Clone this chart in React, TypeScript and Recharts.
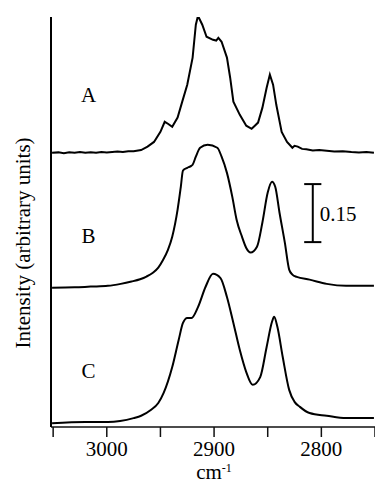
import React from 'react';
import { LineChart, Line, XAxis, YAxis, ReferenceLine, ReferenceDot } from 'recharts';

// Wavenumber grid (cm-1) and intensity (arbitrary units, above each trace's own baseline)
const aWavenumber = [
  3051, 3045, 3040, 3035, 3030, 3025, 3020, 3015,
  3010, 3005, 3000, 2995, 2990, 2985, 2980, 2975,
  2968, 2962, 2956, 2950, 2946, 2943, 2939, 2934,
  2930, 2925, 2920, 2917, 2915, 2911, 2907, 2901,
  2898, 2896, 2893, 2888, 2885, 2882, 2876, 2870,
  2865, 2862, 2859, 2855, 2851, 2848, 2845, 2842,
  2837, 2832, 2827, 2825, 2822, 2818, 2814, 2808,
  2802, 2795, 2788, 2780, 2772, 2765, 2758, 2751,
];
const aIntensity = [
  0, 0.001, -0.001, 0.001, 0, 0.002, 0, 0.001,
  0, 0.002, 0.001, 0.002, 0.003, 0.002, 0.004, 0.004,
  0.007, 0.016, 0.028, 0.054, 0.08, 0.075, 0.067, 0.091,
  0.129, 0.176, 0.246, 0.331, 0.354, 0.331, 0.3, 0.292,
  0.29, 0.297, 0.287, 0.246, 0.194, 0.132, 0.098, 0.07,
  0.062, 0.07, 0.078, 0.116, 0.168, 0.202, 0.176, 0.124,
  0.054, 0.028, 0.013, 0.018, 0.016, 0.01, 0.009, 0.006,
  0.007, 0.005, 0.003, 0.004, 0.002, 0.001, 0.002, 0,
];

const bWavenumber = [
  3051, 3030, 3015, 2999, 2987, 2977, 2969, 2963, 2957, 2952, 2948, 2943,
  2939, 2934, 2931, 2929, 2925, 2922, 2920, 2917, 2913, 2906, 2897,
  2893, 2888, 2883, 2879, 2874, 2870, 2866, 2860, 2855, 2850, 2846,
  2843, 2839, 2834, 2830, 2827, 2823, 2811, 2795, 2777, 2751,
];
const bIntensity = [
  0, 0.001, 0.003, 0.005, 0.01, 0.016, 0.022, 0.029, 0.039, 0.052, 0.07, 0.098,
  0.132, 0.202, 0.261, 0.303, 0.31, 0.314, 0.318, 0.339, 0.362, 0.37, 0.362,
  0.339, 0.297, 0.235, 0.176, 0.132, 0.103, 0.091, 0.106, 0.168, 0.246, 0.274,
  0.261, 0.194, 0.116, 0.047, 0.034, 0.028, 0.021, 0.01, 0.005, 0.005,
];

const cWavenumber = [
  3051, 3020, 2999, 2975, 2968, 2959, 2952, 2947, 2939, 2933, 2929, 2925,
  2921, 2915, 2908, 2901, 2894, 2888, 2882, 2876, 2870, 2864, 2857, 2851,
  2846, 2844, 2841, 2836, 2830, 2825, 2820, 2811, 2795, 2777, 2751,
];
const cIntensity = [
  -0.003, 0, 0, 0.01, 0.016, 0.031, 0.049, 0.075, 0.142, 0.212, 0.256, 0.269,
  0.269, 0.297, 0.349, 0.383, 0.372, 0.323, 0.256, 0.186, 0.129, 0.096, 0.116, 0.194,
  0.259, 0.272, 0.246, 0.168, 0.083, 0.052, 0.039, 0.023, 0.016, 0.01, 0.01,
];

// Vertical stacking offsets of the three traces
const traceNames = ['A', 'B', 'C'];
const traceOffsets = [0.709, 0.36, 0.013];
// Where each trace letter sits (wavenumber, intensity)
const letterWavenumber = 3017;
const letterLevels = [0.859, 0.494, 0.145];

// Axis
const xTicks = [3050, 3000, 2950, 2900, 2850, 2800, 2750];
const xDomain = [2750, 3052];
const yDomain = [0, 1.06];

// Scale bar
const scaleBarValue = 0.15;
const scaleBarBase = 0.478;
const scaleBarWavenumber = 2808;
const scaleBarCapHalf = 8;

const buildTrace = (wn: number[], val: number[], offset: number) =>
  wn.map((w, i) => ({ wn: w, y: val[i] + offset }));

const traces = [
  buildTrace(aWavenumber, aIntensity, traceOffsets[0]),
  buildTrace(bWavenumber, bIntensity, traceOffsets[1]),
  buildTrace(cWavenumber, cIntensity, traceOffsets[2]),
];

const FONT = "'Liberation Serif', 'Times New Roman', serif";

const renderTick = (props: any) => {
  const { x, y, payload } = props;
  if (payload.value % 100 !== 0) return <g />;
  return (
    <text x={x} y={y} dy={14} textAnchor="middle" fontSize={21} fill="#000" fontFamily={FONT}>
      {payload.value}
    </text>
  );
};

const XTitle = () => (
  <text x={214} y={479} textAnchor="middle" fontSize={21} fill="#000" fontFamily={FONT}>
    cm
    <tspan fontSize={12} dy={-7}>-1</tspan>
  </text>
);

const YTitle = () => (
  <text
    transform="translate(30,243) rotate(-90)"
    textAnchor="middle"
    fontSize={21}
    fill="#000"
    fontFamily={FONT}
  >
    Intensity (arbitrary units)
  </text>
);

export default function App() {
  return (
    <div style={{ position: 'absolute', left: 0, top: 0, background: '#fff', fontFamily: FONT }}>
      <LineChart width={375} height={485} margin={{ top: 17, right: 0, bottom: 0, left: 0 }}>
        <XAxis
          dataKey="wn"
          type="number"
          domain={xDomain}
          reversed
          allowDataOverflow
          ticks={xTicks}
          interval={0}
          height={58}
          tickSize={10}
          tickMargin={5}
          axisLine={{ stroke: '#111', strokeWidth: 1.5 }}
          tickLine={{ stroke: '#111', strokeWidth: 1.5 }}
          tick={renderTick}
          label={<XTitle />}
        />
        <YAxis
          type="number"
          dataKey="y"
          domain={yDomain}
          allowDataOverflow
          width={51}
          tick={false}
          tickLine={false}
          axisLine={{ stroke: '#000', strokeWidth: 2 }}
          label={<YTitle />}
        />
        {traces.map((data, i) => (
          <Line
            key={traceNames[i]}
            data={data}
            dataKey="y"
            type={i === 0 ? 'linear' : 'monotone'}
            stroke="#000"
            strokeWidth={2}
            dot={false}
            activeDot={false}
            isAnimationActive={false}
          />
        ))}
        {traceNames.map((name, i) => (
          <ReferenceDot
            key={`lbl-${name}`}
            x={letterWavenumber}
            y={letterLevels[i]}
            r={0}
            fill="none"
            stroke="none"
            label={{ value: name, position: 'center', fontSize: 21, fill: '#000', fontFamily: FONT }}
          />
        ))}
        <ReferenceLine
          segment={[
            { x: scaleBarWavenumber, y: scaleBarBase },
            { x: scaleBarWavenumber, y: scaleBarBase + scaleBarValue },
          ]}
          stroke="#000"
          strokeWidth={2}
          label={{ value: String(scaleBarValue), position: 'right', offset: 7, fontSize: 21, fill: '#000', fontFamily: FONT }}
        />
        <ReferenceLine
          segment={[
            { x: scaleBarWavenumber + scaleBarCapHalf, y: scaleBarBase },
            { x: scaleBarWavenumber - scaleBarCapHalf, y: scaleBarBase },
          ]}
          stroke="#000"
          strokeWidth={2}
        />
        <ReferenceLine
          segment={[
            { x: scaleBarWavenumber + scaleBarCapHalf, y: scaleBarBase + scaleBarValue },
            { x: scaleBarWavenumber - scaleBarCapHalf, y: scaleBarBase + scaleBarValue },
          ]}
          stroke="#000"
          strokeWidth={2}
        />
      </LineChart>
    </div>
  );
}
